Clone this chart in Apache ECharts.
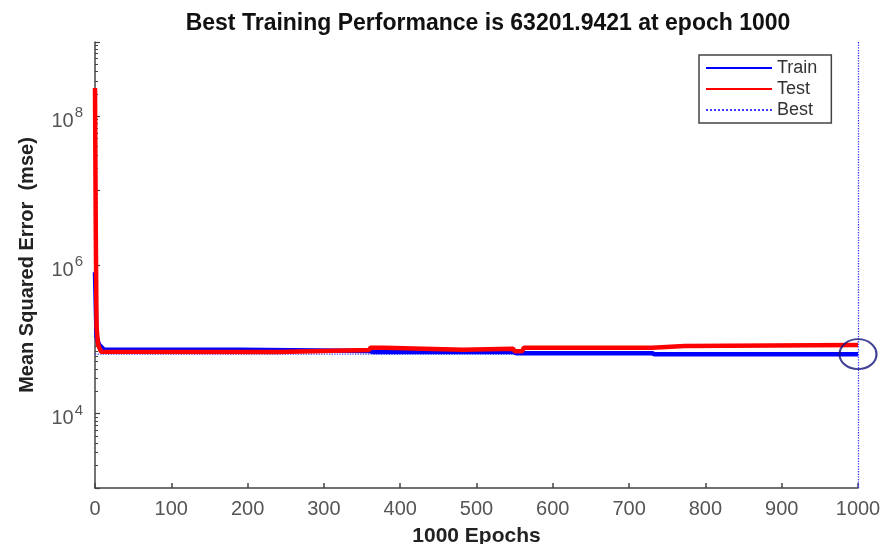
<!DOCTYPE html>
<html lang="en">
<head>
    <meta charset="UTF-8">
    <title>Training Performance</title>
    <script src="https://cdn.jsdelivr.net/npm/echarts@6/dist/echarts.min.js"></script>
    <style>
        *{
            margin: 0;
            padding: 0;
        }
        body{
            background-color: #fff;
            overflow: hidden;
        }
    </style>
</head>
<body>
<div id="main" style="width:885px;height:544px;"></div>

<script>
    // data (epoch, mse)
    var trainEpochs = [0, 2, 5, 12, 190, 192, 360, 365, 548, 552, 730, 733, 1000];
    var trainMse = [8.0e5, 1.1e5, 86000, 72300, 72300, 69500, 69500, 67300, 67300, 65200, 65200, 63202, 63202];

    var testEpochs = [0, 1, 2, 4, 8, 239, 241, 359, 361, 379, 381, 482, 484, 548, 550, 560, 562, 730, 732, 773, 775, 1000];
    var testMse = [2.4e8, 3.0e6, 1.5e5, 85000, 68000, 67300, 71600, 71600, 76900, 76900, 72300, 72300, 74500, 74500, 69400, 69400, 76900, 76900, 81100, 81100, 83700, 83700];

    var bestEpoch = 1000;
    var bestPerf = 63201.9421;
    var xTicks = [0, 100, 200, 300, 400, 500, 600, 700, 800, 900, 1000];

    function pairs(xs, ys) {
        return xs.map(function (x, i) { return [x, ys[i]]; });
    }

    var myChart = echarts.init(document.getElementById('main'));
    var font = 'Liberation Sans, Arial, sans-serif';

    var option = {
        animation: false,
        title: {
            text: 'Best Training Performance is ' + bestPerf.toFixed(4) + ' at epoch ' + bestEpoch,
            left: 483,
            textAlign: 'center',
            top: 7,
            textStyle: {
                color: '#111',
                fontSize: 23,
                fontWeight: 'bold',
                fontFamily: font
            }
        },
        grid: {
            left: 95,
            right: 27,
            top: 42,
            bottom: 56,
            outerBoundsMode: 'none'
        },
        legend: {
            data: ['Train', 'Test', 'Best'],
            orient: 'vertical',
            left: 699,
            top: 55,
            itemWidth: 66,
            itemHeight: 14,
            itemGap: 3,
            padding: [4, 14, 4, 6],
            borderColor: '#444',
            borderWidth: 1.5,
            itemStyle: { opacity: 0 },
            textStyle: {
                color: '#333',
                fontSize: 18,
                fontFamily: font
            }
        },
        xAxis: {
            type: 'value',
            min: 0,
            max: 1000,
            interval: 100,
            name: bestEpoch + ' Epochs',
            nameLocation: 'middle',
            nameGap: 38,
            nameTextStyle: {
                color: '#222',
                fontSize: 21,
                fontWeight: 'bold',
                fontFamily: font
            },
            axisLine: { lineStyle: { color: '#444', width: 1.5 } },
            axisTick: { inside: true, length: 5, lineStyle: { color: '#444', width: 1.5 } },
            axisLabel: {
                color: '#555',
                fontSize: 20,
                fontFamily: font,
                margin: 11,
                formatter: function (v) { return xTicks.indexOf(v) >= 0 ? String(v) : ''; }
            },
            splitLine: { show: false }
        },
        yAxis: {
            type: 'log',
            logBase: 10,
            min: 1e3,
            max: 1e9,
            interval: 1,
            name: 'Mean Squared Error  (mse)',
            nameLocation: 'middle',
            nameGap: 58,
            nameTextStyle: {
                color: '#222',
                fontSize: 20,
                fontWeight: 'bold',
                fontFamily: font
            },
            axisLine: { show: true, lineStyle: { color: '#444', width: 1.5 } },
            axisTick: { inside: true, length: 5, lineStyle: { color: '#444', width: 1.2 } },
            minorTick: { show: true, splitNumber: 9, length: 3, lineStyle: { color: '#444', width: 1 } },
            axisLabel: {
                color: '#555',
                fontFamily: font,
                margin: 12,
                formatter: function (v) {
                    var e = Math.round(Math.log(v) / Math.LN10);
                    return e % 2 === 0 ? '{b|10}{s|' + e + '}' : '';
                },
                rich: {
                    b: { fontSize: 20, fontFamily: font, color: '#555', padding: [10, 0, 0, 0] },
                    s: { fontSize: 15, fontFamily: font, color: '#555', padding: [0, 0, 6, 1] }
                }
            },
            splitLine: { show: false }
        },
        series: [
            {
                name: 'Best',
                type: 'line',
                data: [[0, bestPerf], [bestEpoch, bestPerf]],
                symbol: 'none',
                color: '#3b3bff',
                lineStyle: { type: 'dotted', width: 1.3, color: '#3b3bff' },
                markLine: {
                    silent: true,
                    symbol: 'none',
                    label: { show: false },
                    lineStyle: { type: 'dotted', width: 1.3, color: '#3b3bff' },
                    data: [{ xAxis: bestEpoch }]
                }
            },
            {
                name: 'Train',
                type: 'line',
                data: pairs(trainEpochs, trainMse),
                symbol: 'none',
                color: '#0000ff',
                lineStyle: { width: 4.5, color: '#0000ff' }
            },
            {
                name: 'Test',
                type: 'line',
                data: pairs(testEpochs, testMse),
                symbol: 'none',
                color: '#ff0000',
                lineStyle: { width: 4.5, color: '#ff0000' }
            },
            {
                name: 'bestMarker',
                type: 'scatter',
                data: [[bestEpoch, bestPerf]],
                symbol: 'circle',
                symbolSize: [37, 30],
                z: 5,
                itemStyle: {
                    color: 'rgba(0,0,0,0)',
                    borderColor: '#12127a',
                    borderWidth: 2
                }
            }
        ]
    };

    myChart.setOption(option);
    window.onresize = myChart.resize;
</script>
</body>
</html>
